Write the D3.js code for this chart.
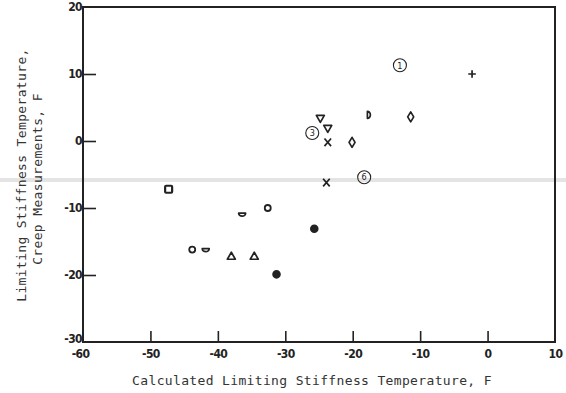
<!DOCTYPE html>
<html>
<head>
<meta charset="utf-8">
<script src="https://cdn.jsdelivr.net/npm/d3@7"></script>
<style>
  body { margin: 0; background: #fff; }
  svg { display: block; }
</style>
</head>
<body>
<div id="chart-area"></div>
<script>
// values
var calcTemp  = [-47.3, -36.4, -32.6, -25.7, -43.8, -41.8, -38.0, -34.6, -31.3, -2.3, -17.6, -11.4, -24.8, -23.7, -23.7, -20.1, -23.9];
var creepTemp = [-7.2, -11.0, -10.0, -13.1, -16.2, -16.3, -17.2, -17.2, -19.9, 10.0, 3.9, 3.6, 3.3, 1.8, -0.2, -0.2, -6.2];
var markers   = ["square", "bowl", "circle", "dot", "circle", "bowl", "triangle", "triangle", "dot", "plus", "dee", "diamond", "triangleDown", "triangleDown", "x", "diamond", "x"];

var labelNums = ["1", "3", "6"];
var labelX    = [-13.0, -26.0, -18.3];
var labelY    = [11.3, 1.2, -5.4];

var xTicks = [-60, -50, -40, -30, -20, -10, 0, 10];
var yTicks = [-30, -20, -10, 0, 10, 20];

var margin = { top: 7, right: 11, bottom: 51, left: 83 },
    width = 566 - margin.left - margin.right,
    height = 393 - margin.top - margin.bottom;

var root = d3.select("#chart-area")
    .append("svg")
    .attr("width", 566)
    .attr("height", 393);

// faint scan streak across the page
root.append("rect")
    .attr("x", 0)
    .attr("y", 178)
    .attr("width", 566)
    .attr("height", 4)
    .attr("fill", "#e4e4e4");

var svg = root.append("g")
    .attr("transform", "translate(" + margin.left + "," + margin.top + ")");

var xScale = d3.scaleLinear().domain([-60, 10]).range([0, width]);
var yScale = d3.scaleLinear().domain([-30, 20]).range([height, 0]);

var ink = "#222";
var tickFont = "'DejaVu Sans Condensed', 'Liberation Sans Narrow', 'Liberation Sans', sans-serif";
var titleFont = "'DejaVu Sans Mono', 'Liberation Mono', monospace";

// frame
svg.append("rect")
    .attr("x", 0)
    .attr("y", 0)
    .attr("width", width)
    .attr("height", height)
    .attr("fill", "none")
    .attr("stroke", ink)
    .attr("stroke-width", 2);

var plain = function(d) { return String(d); };

var xAxis = d3.axisBottom(xScale)
    .tickValues(xTicks)
    .tickSizeInner(-11)
    .tickSizeOuter(0)
    .tickPadding(7)
    .tickFormat(plain);

var yAxis = d3.axisLeft(yScale)
    .tickValues(yTicks)
    .tickSizeInner(-13)
    .tickSizeOuter(0)
    .tickPadding(1)
    .tickFormat(plain);

var gx = svg.append("g")
    .attr("transform", "translate(0," + height + ")")
    .call(xAxis);

var gy = svg.append("g")
    .call(yAxis);

[gx, gy].forEach(function(g) {
    g.select(".domain").remove();
    g.selectAll(".tick line").attr("stroke", ink).attr("stroke-width", 1.6);
    g.selectAll(".tick text")
        .attr("fill", ink)
        .style("font-family", tickFont)
        .style("font-size", "12px")
        .style("font-weight", "bold")
        .style("letter-spacing", "-0.6px");
});
gx.selectAll(".tick line").filter(function(d) { return d === -60 || d === 10; }).remove();
gy.selectAll(".tick line").filter(function(d) { return d === -30 || d === 20; }).remove();
gx.selectAll(".tick text").filter(function(d) { return d === -60; }).attr("dx", -3);
gy.selectAll(".tick text").filter(function(d) { return d === -30; }).attr("y", -3);

// axis titles
root.append("text")
    .attr("x", 312)
    .attr("y", 385)
    .attr("text-anchor", "middle")
    .attr("fill", "#333")
    .style("font-family", titleFont)
    .style("font-size", "13px")
    .style("letter-spacing", "0.35px")
    .text("Calculated Limiting Stiffness Temperature, F");

root.append("text")
    .attr("transform", "translate(26,175) rotate(-90)")
    .attr("text-anchor", "middle")
    .attr("fill", "#333")
    .style("font-family", titleFont)
    .style("font-size", "13px")
    .style("letter-spacing", "0.35px")
    .text("Limiting Stiffness Temperature,");

root.append("text")
    .attr("transform", "translate(42,179) rotate(-90)")
    .attr("text-anchor", "middle")
    .attr("fill", "#333")
    .style("font-family", titleFont)
    .style("font-size", "13px")
    .style("letter-spacing", "0.35px")
    .text("Creep Measurements, F");

// marker shapes
function markerPath(type) {
    switch (type) {
        case "square":
            return "M-2.5,-3.5 H2.5 Q3.5,-3.5 3.5,-2.5 V2.5 Q3.5,3.5 2.5,3.5 H-2.5 Q-3.5,3.5 -3.5,2.5 V-2.5 Q-3.5,-3.5 -2.5,-3.5 Z";
        case "bowl":
            return "M-3.5,-1.5 H3.5 A3.5,3 0 0 1 -3.5,-1.5 Z";
        case "dee":
            return "M-1.5,-3.5 V3.5 A3,3.5 0 0 0 -1.5,-3.5 Z";
        case "triangle":
            return "M0,-4 L4,3 L-4,3 Z";
        case "triangleDown":
            return "M0,3.5 L4,-3.5 L-4,-3.5 Z";
        case "diamond":
            return "M0,-5 L3,0 L0,5 L-3,0 Z";
        case "x":
            return "M-3.3,-3.8 L3.3,3.8 M3.3,-3.8 L-3.3,3.8";
        case "plus":
            return "M-3.8,0 H3.8 M0,-3.8 V3.8";
    }
    return null;
}

var data = calcTemp.map(function(x, i) {
    return { x: x, y: creepTemp[i], m: markers[i] };
});

var pts = svg.selectAll(".pt")
    .data(data)
    .enter().append("g")
    .attr("class", "pt")
    .attr("transform", function(d) {
        return "translate(" + xScale(d.x) + "," + yScale(d.y) + ")";
    });

pts.filter(function(d) { return d.m === "circle" || d.m === "dot"; })
    .append("circle")
    .attr("r", function(d) { return d.m === "dot" ? 3.4 : 3; })
    .attr("fill", function(d) { return d.m === "dot" ? ink : "none"; })
    .attr("stroke", ink)
    .attr("stroke-width", 1.8);

pts.filter(function(d) { return d.m !== "circle" && d.m !== "dot"; })
    .append("path")
    .attr("d", function(d) { return markerPath(d.m); })
    .attr("fill", "none")
    .attr("stroke", ink)
    .attr("stroke-width", function(d) { return d.m === "square" ? 2.2 : 1.7; })
    .attr("stroke-linejoin", "round");

// circled sample numbers
var labels = svg.selectAll(".num")
    .data(labelNums)
    .enter().append("g")
    .attr("class", "num")
    .attr("transform", function(d, i) {
        return "translate(" + xScale(labelX[i]) + "," + yScale(labelY[i]) + ")";
    });

labels.append("circle")
    .attr("r", 6.5)
    .attr("fill", "none")
    .attr("stroke", ink)
    .attr("stroke-width", 1.1);

labels.append("text")
    .attr("text-anchor", "middle")
    .attr("dy", "0.36em")
    .attr("fill", ink)
    .style("font-family", tickFont)
    .style("font-size", "9px")
    .text(function(d) { return d; });
</script>
</body>
</html>
